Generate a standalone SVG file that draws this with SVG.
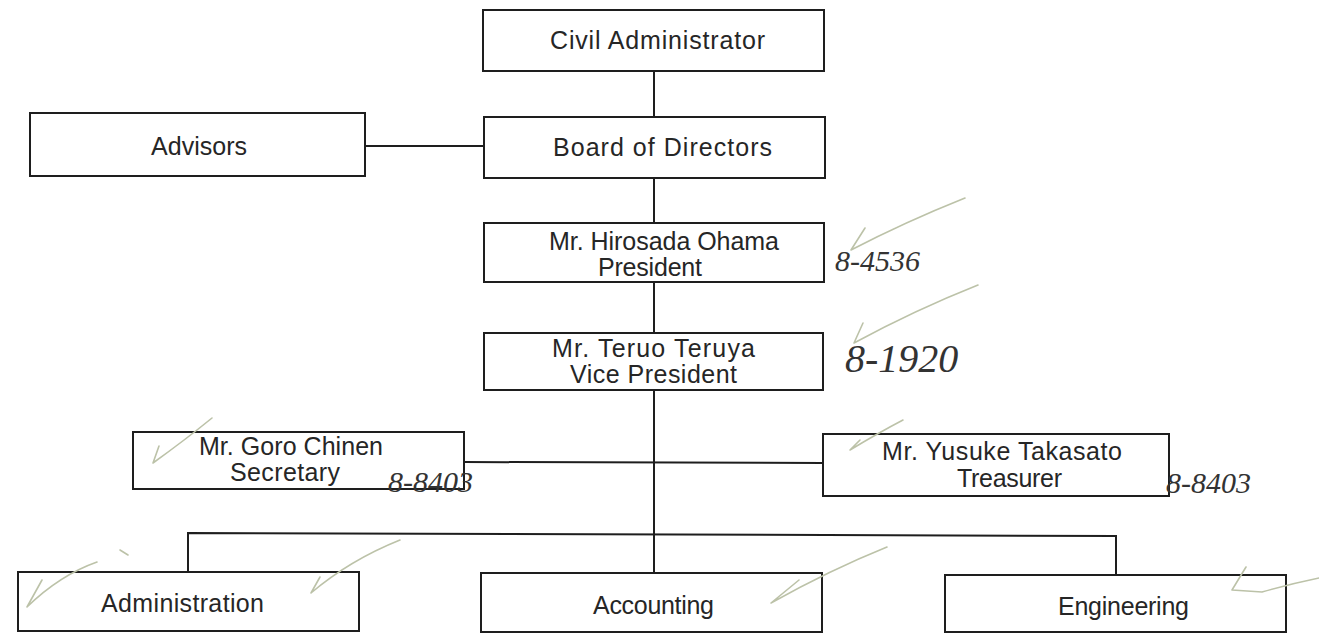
<svg xmlns="http://www.w3.org/2000/svg" width="1319" height="633" viewBox="0 0 1319 633">
<style>
.box{fill:#fff;stroke:#1e1e1e;stroke-width:2}
.lbl{font-family:"Liberation Sans",Arial,sans-serif;font-size:25px;fill:#262626}
.conn{stroke:#1e1e1e;stroke-width:2;fill:none}
.hw{font-family:"Liberation Serif","DejaVu Serif",serif;font-style:italic;fill:#333}
.tick{stroke:#bcc2a8;stroke-width:1.6;fill:none;stroke-linecap:round;stroke-linejoin:round}
</style>
<rect width="1319" height="633" fill="#fff"/>
<g id="connectors">
<line class="conn" x1="654" y1="71" x2="654" y2="117"/>
<line class="conn" x1="365" y1="146" x2="484" y2="146"/>
<line class="conn" x1="654" y1="178" x2="654" y2="223"/>
<line class="conn" x1="654" y1="282" x2="654" y2="333"/>
<line class="conn" x1="654" y1="390" x2="654" y2="573"/>
<line class="conn" x1="464" y1="462" x2="823" y2="463"/>
<polyline class="conn" points="188,572 188,533 1116,536 1116,575"/>
</g>
<g id="civil-administrator">
<rect class="box" x="483" y="10" width="341" height="61"/>
<text class="lbl" x="550" y="49" textLength="215">Civil Administrator</text>
</g>
<g id="advisors">
<rect class="box" x="30" y="113" width="335" height="63"/>
<text class="lbl" x="151" y="155" textLength="96">Advisors</text>
</g>
<g id="board-of-directors">
<rect class="box" x="484" y="117" width="341" height="61"/>
<text class="lbl" x="553" y="156" textLength="219">Board of Directors</text>
</g>
<g id="president">
<rect class="box" x="484" y="223" width="340" height="59"/>
<text class="lbl" x="549" y="250" textLength="230">Mr. Hirosada Ohama</text>
<text class="lbl" x="598" y="276" textLength="104">President</text>
</g>
<g id="vice-president">
<rect class="box" x="484" y="333" width="339" height="57"/>
<text class="lbl" x="552" y="357" textLength="203">Mr. Teruo Teruya</text>
<text class="lbl" x="570" y="383" textLength="167">Vice President</text>
</g>
<g id="secretary">
<rect class="box" x="133" y="432" width="331" height="57"/>
<text class="lbl" x="199" y="455" textLength="184">Mr. Goro Chinen</text>
<text class="lbl" x="230" y="481" textLength="110">Secretary</text>
</g>
<g id="treasurer">
<rect class="box" x="823" y="434" width="346" height="62"/>
<text class="lbl" x="882" y="460" textLength="240">Mr. Yusuke Takasato</text>
<text class="lbl" x="957" y="487" textLength="105">Treasurer</text>
</g>
<g id="administration">
<rect class="box" x="18" y="572" width="341" height="59"/>
<text class="lbl" x="101" y="612" textLength="163">Administration</text>
</g>
<g id="accounting">
<rect class="box" x="481" y="573" width="341" height="59"/>
<text class="lbl" x="593" y="614" textLength="121">Accounting</text>
</g>
<g id="engineering">
<rect class="box" x="945" y="575" width="341" height="57"/>
<text class="lbl" x="1058" y="615" textLength="131">Engineering</text>
</g>
<g id="annotations">
<path class="tick" d="M865,228 L851,250 Q905,222 965,198"/>
<path class="tick" d="M863,323 L854,343 Q915,310 978,285"/>
<path class="tick" d="M159,446 L153,463 Q185,440 212,418"/>
<path class="tick" d="M860,440 L850,450 Q880,432 903,420"/>
<path class="tick" d="M42,580 L27,607 Q60,575 97,562 M120,550 L128,555"/>
<path class="tick" d="M320,577 L311,593 Q350,560 400,540"/>
<path class="tick" d="M799,580 L771,603 Q830,570 887,547"/>
<path class="tick" d="M1246,567 L1232,590 L1262,592 Q1290,584 1319,578"/>
<text class="hw" x="835" y="271" font-size="30">8-4536</text>
<text class="hw" x="845" y="372" font-size="40">8-1920</text>
<text class="hw" x="388" y="492" font-size="30">8-8403</text>
<text class="hw" x="1166" y="493" font-size="30">8-8403</text>
</g>
</svg>
